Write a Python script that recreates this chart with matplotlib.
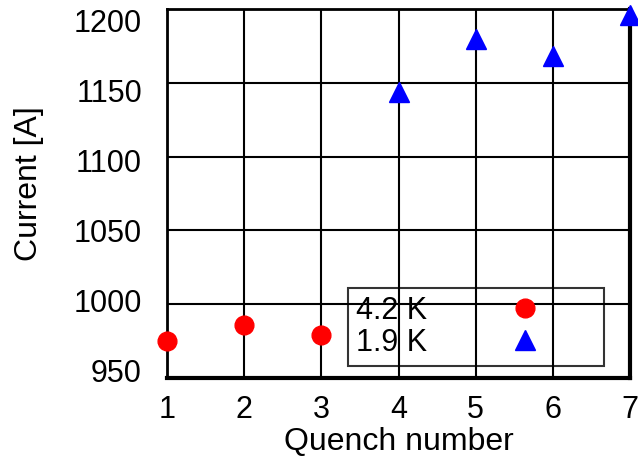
import matplotlib.pyplot as plt
from matplotlib.transforms import ScaledTranslation

plt.rcParams["font.family"] = ["Liberation Sans", "DejaVu Sans"]

# quench currents, two bath temperatures
quench_42 = [1, 2, 3]
current_42 = [975, 986, 979]
quench_19 = [4, 5, 6, 7]
current_19 = [1144, 1180, 1168, 1196]

xticks = [1, 2, 3, 4, 5, 6, 7]
yticks = [950, 1000, 1050, 1100, 1150, 1200]

fig = plt.figure(figsize=(6.38, 4.57), dpi=100)
ax = fig.add_axes([167 / 638, 1 - 378 / 457, 463 / 638, 369 / 457])

ax.plot(quench_42, current_42, "o", color="red", markersize=13.5,
        clip_on=False, zorder=5, label="4.2 K")
ax.plot(quench_19, current_19, "^", color="blue", markersize=14,
        clip_on=False, zorder=5, label="1.9 K")

ax.set_xlim(1, 7)
ax.set_ylim(950, 1200)
ax.set_xticks(xticks)
ax.set_yticks(yticks)
ax.grid(True, color="black", linewidth=1.5)
ax.tick_params(length=0, labelsize=22)
ax.tick_params(axis="y", pad=18)
ax.tick_params(axis="x", pad=12)
for s in ax.spines.values():
    s.set_linewidth(2)
ax.spines["right"].set_linewidth(3)
ax.spines["bottom"].set_linewidth(3)

# y labels sit on a slightly tighter pitch than the grid
fig.canvas.draw()
for k, lab in enumerate(ax.get_yticklabels()):
    dy = (-8 + 4 * k) / 100
    lab.set_transform(lab.get_transform() + ScaledTranslation(0, -dy, fig.dpi_scale_trans))

ax.set_xlabel("Quench number", fontsize=23, labelpad=2)
ax.set_ylabel("Current [A]", fontsize=23)
ax.yaxis.set_label_coords(-0.266, 0.528)

leg = ax.legend(loc="upper left", bbox_to_anchor=(181 / 463, 1 - 279 / 369),
                markerfirst=False, fontsize=22, frameon=True, fancybox=False,
                edgecolor="black", facecolor="none", handletextpad=0.85,
                handlelength=4.7, borderpad=0.25, labelspacing=0.08,
                borderaxespad=0)
leg.get_frame().set_linewidth(1.5)

fig.savefig("out.png", dpi=100)
